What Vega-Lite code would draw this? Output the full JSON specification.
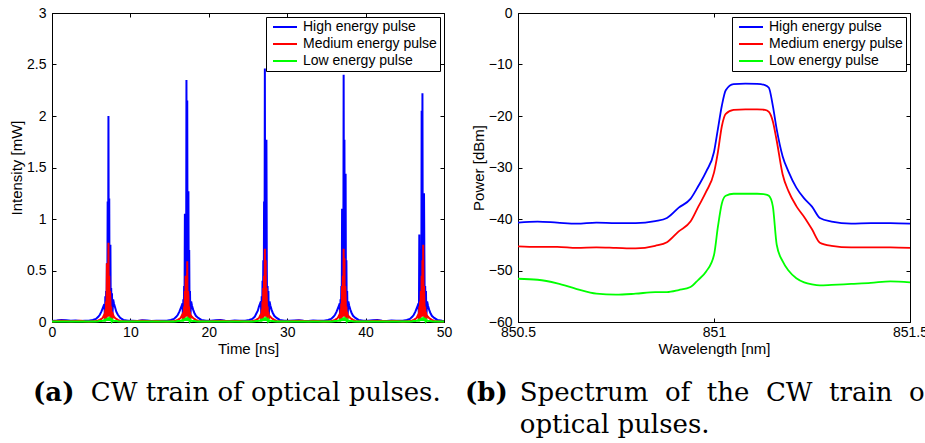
{
"$schema":"https://vega.github.io/schema/vega-lite/v6.json",
"background":"white",
"padding":{"left":9,"top":5,"right":0,"bottom":0},
"spacing":11,
"config":{
 "font":"Liberation Sans",
 "view":{"stroke":"black","strokeWidth":1},
 "axis":{"grid":false,"domainColor":"black","domainWidth":1,"tickColor":"black","tickWidth":1,"tickSize":-4,"labelColor":"black","titleColor":"black","labelFont":"Liberation Sans","titleFont":"Liberation Sans","labelFontSize":14,"titleFontSize":15,"titleFontWeight":"normal","labelFlush":false,"labelOverlap":false},
 "axisX":{"labelPadding":7,"titlePadding":2},
 "axisY":{"labelPadding":10,"titlePadding":2},
 "legend":{"orient":"top-right","offset":4,"padding":3,"fillColor":"white","strokeColor":"black","strokeWidth":1,"cornerRadius":0,"labelFont":"Liberation Sans","labelFontSize":14,"labelColor":"black","symbolType":"M-2,0H2","symbolSize":144,"symbolStrokeWidth":2,"symbolOffset":9,"labelOffset":11,"rowPadding":3},
 "title":{"orient":"bottom","anchor":"start","frame":"group","font":"DejaVu Serif","fontSize":26,"fontWeight":"bold","color":"black","subtitleFont":"DejaVu Serif","subtitleFontSize":26,"subtitleFontWeight":"normal","subtitleColor":"black","subtitlePadding":-26,"subtitleLineHeight":32,"offset":24}
},
"datasets":{
"pulses":[
{"t":0,"H":0.01,"M":0.006,"L":0.005},{"t":0.6,"H":0.014,"M":0.01,"L":0.006},{"t":1.2,"H":0.02,"M":0.012,"L":0.006},{"t":1.8,"H":0.018,"M":0.01,"L":0.005},{"t":2.4,"H":0.012,"M":0.008,"L":0.005},{"t":3,"H":0.015,"M":0.01,"L":0.006},{"t":3.6,"H":0.01,"M":0.012,"L":0.005},{"t":4.2,"H":0.013,"M":0.008,"L":0.005},
{"t":4.7,"H":0.012,"M":0.006,"L":0.005},{"t":5.2,"H":0.02,"M":0.008,"L":0.005},{"t":5.6,"H":0.03,"M":0.01,"L":0.006},{"t":5.9,"H":0.05,"M":0.015,"L":0.008},{"t":6.1,"H":0.07,"M":0.02,"L":0.01},{"t":6.3,"H":0.1,"M":0.03,"L":0.01},{"t":6.45,"H":0.13,"M":0.04,"L":0.012},{"t":6.6,"H":0.16,"M":0.06,"L":0.015},{"t":6.7,"H":0.15,"M":0.08,"L":0.02},{"t":6.75,"H":0.03,"M":0.02,"L":0.005},{"t":6.8,"H":0.25,"M":0.12,"L":0.025},{"t":6.85,"H":0.04,"M":0.03,"L":0.01},{"t":6.9,"H":0.3,"M":0.2,"L":0.03},{"t":6.95,"H":0.05,"M":0.03,"L":0.01},{"t":7,"H":0.57,"M":0.57,"L":0.035},{"t":7.05,"H":0.06,"M":0.05,"L":0.01},{"t":7.1,"H":1.17,"M":0.35,"L":0.04},{"t":7.15,"H":0.1,"M":0.05,"L":0.01},{"t":7.2,"H":2.0,"M":0.77,"L":0.045},{"t":7.25,"H":0.15,"M":0.08,"L":0.01},{"t":7.3,"H":1.2,"M":0.45,"L":0.04},{"t":7.35,"H":0.1,"M":0.05,"L":0.01},{"t":7.4,"H":0.6,"M":0.3,"L":0.035},{"t":7.45,"H":0.75,"M":0.2,"L":0.03},{"t":7.5,"H":0.06,"M":0.04,"L":0.01},{"t":7.55,"H":0.33,"M":0.15,"L":0.025},{"t":7.6,"H":0.05,"M":0.03,"L":0.01},{"t":7.65,"H":0.28,"M":0.1,"L":0.02},{"t":7.7,"H":0.05,"M":0.03,"L":0.008},{"t":7.8,"H":0.22,"M":0.07,"L":0.015},{"t":7.9,"H":0.18,"M":0.05,"L":0.012},{"t":8.05,"H":0.14,"M":0.04,"L":0.01},{"t":8.2,"H":0.1,"M":0.03,"L":0.01},{"t":8.4,"H":0.07,"M":0.02,"L":0.008},{"t":8.7,"H":0.04,"M":0.01,"L":0.006},{"t":9.1,"H":0.02,"M":0.008,"L":0.005},{"t":9.7,"H":0.012,"M":0.006,"L":0.005},
{"t":10.3,"H":0.012,"M":0.008,"L":0.005},{"t":10.9,"H":0.01,"M":0.01,"L":0.006},{"t":11.5,"H":0.018,"M":0.012,"L":0.005},{"t":12.1,"H":0.015,"M":0.01,"L":0.005},{"t":12.7,"H":0.01,"M":0.008,"L":0.006},{"t":13.3,"H":0.013,"M":0.01,"L":0.005},{"t":13.9,"H":0.012,"M":0.008,"L":0.005},
{"t":14.65,"H":0.012,"M":0.006,"L":0.005},{"t":15.15,"H":0.02,"M":0.008,"L":0.005},{"t":15.55,"H":0.03,"M":0.01,"L":0.006},{"t":15.85,"H":0.05,"M":0.015,"L":0.008},{"t":16.05,"H":0.07,"M":0.02,"L":0.01},{"t":16.25,"H":0.1,"M":0.03,"L":0.01},{"t":16.4,"H":0.13,"M":0.04,"L":0.012},{"t":16.55,"H":0.16,"M":0.06,"L":0.015},{"t":16.65,"H":0.18,"M":0.08,"L":0.02},{"t":16.7,"H":0.03,"M":0.02,"L":0.005},{"t":16.75,"H":0.22,"M":0.1,"L":0.025},{"t":16.8,"H":0.04,"M":0.03,"L":0.01},{"t":16.85,"H":0.35,"M":0.15,"L":0.03},{"t":16.9,"H":0.05,"M":0.03,"L":0.01},{"t":16.95,"H":1.05,"M":0.3,"L":0.035},{"t":17,"H":0.06,"M":0.05,"L":0.01},{"t":17.05,"H":0.5,"M":0.45,"L":0.04},{"t":17.1,"H":0.1,"M":0.05,"L":0.01},{"t":17.15,"H":2.35,"M":0.45,"L":0.045},{"t":17.2,"H":0.15,"M":0.08,"L":0.01},{"t":17.25,"H":2.15,"M":0.59,"L":0.04},{"t":17.3,"H":0.1,"M":0.05,"L":0.01},{"t":17.35,"H":0.6,"M":0.3,"L":0.035},{"t":17.4,"H":1.27,"M":0.25,"L":0.03},{"t":17.45,"H":0.06,"M":0.04,"L":0.01},{"t":17.5,"H":0.7,"M":0.15,"L":0.025},{"t":17.55,"H":0.05,"M":0.03,"L":0.01},{"t":17.6,"H":0.3,"M":0.1,"L":0.02},{"t":17.65,"H":0.05,"M":0.03,"L":0.008},{"t":17.75,"H":0.2,"M":0.06,"L":0.015},{"t":17.85,"H":0.16,"M":0.05,"L":0.012},{"t":18,"H":0.12,"M":0.04,"L":0.01},{"t":18.15,"H":0.09,"M":0.03,"L":0.01},{"t":18.35,"H":0.06,"M":0.02,"L":0.008},{"t":18.65,"H":0.04,"M":0.01,"L":0.006},{"t":19.05,"H":0.02,"M":0.008,"L":0.005},{"t":19.65,"H":0.012,"M":0.006,"L":0.005},
{"t":20.3,"H":0.012,"M":0.008,"L":0.005},{"t":20.9,"H":0.016,"M":0.01,"L":0.006},{"t":21.5,"H":0.02,"M":0.012,"L":0.005},{"t":22.1,"H":0.012,"M":0.01,"L":0.005},{"t":22.7,"H":0.01,"M":0.008,"L":0.006},{"t":23.3,"H":0.014,"M":0.01,"L":0.005},{"t":23.9,"H":0.012,"M":0.009,"L":0.005},
{"t":24.65,"H":0.012,"M":0.006,"L":0.005},{"t":25.15,"H":0.02,"M":0.008,"L":0.005},{"t":25.55,"H":0.03,"M":0.01,"L":0.006},{"t":25.85,"H":0.05,"M":0.015,"L":0.008},{"t":26.05,"H":0.08,"M":0.02,"L":0.01},{"t":26.25,"H":0.11,"M":0.03,"L":0.01},{"t":26.4,"H":0.15,"M":0.04,"L":0.012},{"t":26.55,"H":0.18,"M":0.06,"L":0.015},{"t":26.65,"H":0.2,"M":0.08,"L":0.02},{"t":26.7,"H":0.03,"M":0.02,"L":0.005},{"t":26.75,"H":0.25,"M":0.12,"L":0.025},{"t":26.8,"H":0.04,"M":0.03,"L":0.01},{"t":26.85,"H":0.4,"M":0.2,"L":0.03},{"t":26.9,"H":0.05,"M":0.03,"L":0.01},{"t":26.95,"H":0.6,"M":0.33,"L":0.035},{"t":27,"H":0.06,"M":0.05,"L":0.01},{"t":27.05,"H":1.17,"M":0.45,"L":0.04},{"t":27.1,"H":0.1,"M":0.05,"L":0.01},{"t":27.15,"H":2.46,"M":0.71,"L":0.045},{"t":27.2,"H":0.15,"M":0.08,"L":0.01},{"t":27.25,"H":1.0,"M":0.6,"L":0.04},{"t":27.3,"H":0.1,"M":0.05,"L":0.01},{"t":27.35,"H":1.77,"M":0.33,"L":0.035},{"t":27.4,"H":0.5,"M":0.2,"L":0.03},{"t":27.45,"H":0.06,"M":0.04,"L":0.01},{"t":27.5,"H":0.35,"M":0.15,"L":0.025},{"t":27.55,"H":0.05,"M":0.03,"L":0.01},{"t":27.6,"H":0.3,"M":0.1,"L":0.02},{"t":27.65,"H":0.05,"M":0.03,"L":0.008},{"t":27.75,"H":0.2,"M":0.06,"L":0.015},{"t":27.85,"H":0.16,"M":0.05,"L":0.012},{"t":28,"H":0.12,"M":0.04,"L":0.01},{"t":28.15,"H":0.09,"M":0.03,"L":0.01},{"t":28.35,"H":0.06,"M":0.02,"L":0.008},{"t":28.65,"H":0.04,"M":0.01,"L":0.006},{"t":29.05,"H":0.02,"M":0.008,"L":0.005},{"t":29.65,"H":0.012,"M":0.006,"L":0.005},
{"t":30.3,"H":0.011,"M":0.008,"L":0.005},{"t":30.9,"H":0.015,"M":0.01,"L":0.006},{"t":31.5,"H":0.018,"M":0.012,"L":0.005},{"t":32.1,"H":0.012,"M":0.01,"L":0.005},{"t":32.7,"H":0.01,"M":0.008,"L":0.006},{"t":33.3,"H":0.014,"M":0.01,"L":0.005},{"t":33.9,"H":0.012,"M":0.009,"L":0.005},{"t":34.3,"H":0.011,"M":0.008,"L":0.005},
{"t":34.7,"H":0.012,"M":0.006,"L":0.005},{"t":35.2,"H":0.02,"M":0.008,"L":0.005},{"t":35.6,"H":0.03,"M":0.01,"L":0.006},{"t":35.9,"H":0.05,"M":0.015,"L":0.008},{"t":36.1,"H":0.07,"M":0.02,"L":0.01},{"t":36.3,"H":0.1,"M":0.03,"L":0.01},{"t":36.45,"H":0.13,"M":0.04,"L":0.012},{"t":36.6,"H":0.16,"M":0.06,"L":0.015},{"t":36.7,"H":0.18,"M":0.08,"L":0.02},{"t":36.75,"H":0.03,"M":0.02,"L":0.005},{"t":36.8,"H":0.22,"M":0.12,"L":0.025},{"t":36.85,"H":0.04,"M":0.03,"L":0.01},{"t":36.9,"H":0.35,"M":0.18,"L":0.03},{"t":36.95,"H":0.05,"M":0.03,"L":0.01},{"t":37,"H":1.1,"M":0.35,"L":0.035},{"t":37.05,"H":0.06,"M":0.05,"L":0.01},{"t":37.1,"H":0.6,"M":0.45,"L":0.04},{"t":37.15,"H":0.1,"M":0.05,"L":0.01},{"t":37.2,"H":2.4,"M":0.71,"L":0.045},{"t":37.25,"H":0.15,"M":0.08,"L":0.01},{"t":37.3,"H":1.77,"M":0.62,"L":0.04},{"t":37.35,"H":0.1,"M":0.05,"L":0.01},{"t":37.4,"H":0.9,"M":0.35,"L":0.035},{"t":37.45,"H":1.44,"M":0.25,"L":0.03},{"t":37.5,"H":0.06,"M":0.04,"L":0.01},{"t":37.55,"H":0.6,"M":0.15,"L":0.025},{"t":37.6,"H":0.05,"M":0.03,"L":0.01},{"t":37.65,"H":0.3,"M":0.1,"L":0.02},{"t":37.7,"H":0.05,"M":0.03,"L":0.008},{"t":37.8,"H":0.2,"M":0.06,"L":0.015},{"t":37.9,"H":0.16,"M":0.05,"L":0.012},{"t":38.05,"H":0.12,"M":0.04,"L":0.01},{"t":38.2,"H":0.09,"M":0.03,"L":0.01},{"t":38.4,"H":0.06,"M":0.02,"L":0.008},{"t":38.7,"H":0.04,"M":0.01,"L":0.006},{"t":39.1,"H":0.02,"M":0.008,"L":0.005},{"t":39.7,"H":0.012,"M":0.006,"L":0.005},
{"t":40.3,"H":0.012,"M":0.008,"L":0.005},{"t":40.9,"H":0.016,"M":0.01,"L":0.006},{"t":41.5,"H":0.02,"M":0.012,"L":0.005},{"t":42.1,"H":0.012,"M":0.01,"L":0.005},{"t":42.7,"H":0.01,"M":0.008,"L":0.006},{"t":43.3,"H":0.014,"M":0.01,"L":0.005},{"t":43.9,"H":0.012,"M":0.009,"L":0.005},{"t":44.4,"H":0.011,"M":0.008,"L":0.005},
{"t":44.75,"H":0.012,"M":0.006,"L":0.005},{"t":45.25,"H":0.02,"M":0.008,"L":0.005},{"t":45.65,"H":0.03,"M":0.01,"L":0.006},{"t":45.95,"H":0.05,"M":0.015,"L":0.008},{"t":46.15,"H":0.07,"M":0.02,"L":0.01},{"t":46.35,"H":0.1,"M":0.03,"L":0.01},{"t":46.5,"H":0.13,"M":0.04,"L":0.012},{"t":46.65,"H":0.16,"M":0.06,"L":0.015},{"t":46.75,"H":0.18,"M":0.08,"L":0.02},{"t":46.8,"H":0.03,"M":0.02,"L":0.005},{"t":46.85,"H":0.85,"M":0.15,"L":0.025},{"t":46.9,"H":0.04,"M":0.03,"L":0.01},{"t":46.95,"H":0.4,"M":0.2,"L":0.03},{"t":47,"H":0.05,"M":0.03,"L":0.01},{"t":47.05,"H":0.6,"M":0.3,"L":0.035},{"t":47.1,"H":0.06,"M":0.05,"L":0.01},{"t":47.15,"H":2.05,"M":0.45,"L":0.04},{"t":47.2,"H":0.1,"M":0.05,"L":0.01},{"t":47.25,"H":2.22,"M":0.6,"L":0.045},{"t":47.3,"H":0.15,"M":0.08,"L":0.01},{"t":47.35,"H":0.9,"M":0.75,"L":0.04},{"t":47.4,"H":0.1,"M":0.05,"L":0.01},{"t":47.45,"H":1.25,"M":0.35,"L":0.035},{"t":47.5,"H":0.6,"M":0.2,"L":0.03},{"t":47.55,"H":0.06,"M":0.04,"L":0.01},{"t":47.6,"H":0.35,"M":0.15,"L":0.025},{"t":47.65,"H":0.05,"M":0.03,"L":0.01},{"t":47.7,"H":0.3,"M":0.1,"L":0.02},{"t":47.75,"H":0.05,"M":0.03,"L":0.008},{"t":47.85,"H":0.2,"M":0.06,"L":0.015},{"t":47.95,"H":0.16,"M":0.05,"L":0.012},{"t":48.1,"H":0.12,"M":0.04,"L":0.01},{"t":48.25,"H":0.09,"M":0.03,"L":0.01},{"t":48.45,"H":0.06,"M":0.02,"L":0.008},{"t":48.75,"H":0.04,"M":0.01,"L":0.006},{"t":49.15,"H":0.02,"M":0.008,"L":0.005},{"t":49.75,"H":0.012,"M":0.006,"L":0.005},
{"t":50,"H":0.01,"M":0.006,"L":0.005}
],
"spectrum":[
{"w":850.5,"H":-40.7,"M":-45.3,"L":-51.6},{"w":850.55,"H":-40.5,"M":-45.4,"L":-51.8},{"w":850.6,"H":-40.7,"M":-45.4,"L":-52.5},{"w":850.65,"H":-40.9,"M":-45.6,"L":-53.6},{"w":850.7,"H":-40.7,"M":-45.5,"L":-54.5},{"w":850.75,"H":-40.8,"M":-45.6,"L":-54.7},{"w":850.8,"H":-40.8,"M":-45.7,"L":-54.5},{"w":850.85,"H":-40.4,"M":-45.2,"L":-54.2},{"w":850.88,"H":-39.8,"M":-44.5,"L":-54.2},{"w":850.91,"H":-37.8,"M":-42.4,"L":-53.8},{"w":850.94,"H":-36.1,"M":-40.5,"L":-53.2},{"w":850.96,"H":-33.6,"M":-37.6,"L":-51.8},{"w":850.98,"H":-30.8,"M":-34.7,"L":-50.2},{"w":851.0,"H":-27.0,"M":-31.0,"L":-47.0},{"w":851.01,"H":-22.5,"M":-27.0,"L":-41.5},{"w":851.02,"H":-18.0,"M":-22.0,"L":-37.0},{"w":851.03,"H":-15.0,"M":-19.6,"L":-35.5},{"w":851.05,"H":-13.8,"M":-18.8,"L":-35.1},{"w":851.08,"H":-13.7,"M":-18.7,"L":-35.1},{"w":851.11,"H":-13.75,"M":-18.7,"L":-35.1},{"w":851.13,"H":-14.0,"M":-18.8,"L":-35.2},{"w":851.14,"H":-14.5,"M":-19.2,"L":-35.5},{"w":851.15,"H":-18.0,"M":-21.0,"L":-37.5},{"w":851.16,"H":-22.6,"M":-24.8,"L":-45.0},{"w":851.175,"H":-27.8,"M":-31.3,"L":-48.2},{"w":851.19,"H":-30.8,"M":-34.6,"L":-50.0},{"w":851.21,"H":-33.9,"M":-37.5,"L":-51.5},{"w":851.23,"H":-36.0,"M":-39.6,"L":-52.3},{"w":851.25,"H":-37.6,"M":-42.0,"L":-52.7},{"w":851.27,"H":-39.8,"M":-44.6,"L":-52.9},{"w":851.3,"H":-40.5,"M":-45.2,"L":-52.8},{"w":851.35,"H":-40.9,"M":-45.5,"L":-52.6},{"w":851.4,"H":-40.8,"M":-45.5,"L":-52.4},{"w":851.45,"H":-40.8,"M":-45.5,"L":-52.1},{"w":851.5,"H":-40.9,"M":-45.6,"L":-52.3}
]
},
"resolve":{"legend":{"color":"independent"},"scale":{"x":"independent","y":"independent"}},
"hconcat":[
{
 "width":392,"height":309,
 "title":{"text":"(a)","subtitle":"\u200b\u00a0\u00a0\u00a0\u00a0\u00a0\u00a0\u00a0CW train of optical pulses.","dx":-19},
 "resolve":{"axis":{"x":"independent","y":"independent"}},
 "layer":[
  {"data":{"name":"pulses"},"mark":{"type":"line","strokeWidth":2},
   "encoding":{
    "x":{"field":"t","type":"quantitative","scale":{"domain":[0,50],"nice":false},"axis":{"title":"Time [ns]","values":[0,10,20,30,40,50],"format":"~f"}},
    "y":{"field":"H","type":"quantitative","scale":{"domain":[0,3],"nice":false},"axis":{"title":"Intensity [mW]","values":[0,0.5,1,1.5,2,2.5,3],"format":"~f"}},
    "color":{"datum":"High energy pulse","type":"nominal","scale":{"domain":["High energy pulse","Medium energy pulse","Low energy pulse"],"range":["#0000ff","#ff0000","#00ff00"]},"legend":{"title":null,"orient":"top-right","symbolType":"M-2,0H2","symbolSize":144,"symbolStrokeWidth":2}}}},
  {"data":{"name":"pulses"},"mark":{"type":"line","strokeWidth":2},
   "encoding":{
    "x":{"field":"t","type":"quantitative","axis":null},
    "y":{"field":"M","type":"quantitative","axis":null},
    "color":{"datum":"Medium energy pulse","type":"nominal"}}},
  {"data":{"name":"pulses"},"mark":{"type":"line","strokeWidth":2},
   "encoding":{
    "x":{"field":"t","type":"quantitative","axis":null},
    "y":{"field":"L","type":"quantitative","axis":null},
    "color":{"datum":"Low energy pulse","type":"nominal"}}},
  {"data":{"values":[{"t":0,"H":0}]},"mark":{"type":"point","opacity":0},
   "encoding":{
    "x":{"field":"t","type":"quantitative","axis":{"orient":"top","labels":false,"title":null,"domain":false,"values":[0,10,20,30,40,50]}},
    "y":{"field":"H","type":"quantitative","axis":{"orient":"right","labels":false,"title":null,"domain":false,"values":[0,0.5,1,1.5,2,2.5,3]}}}}
 ]
},
{
 "width":392,"height":309,
 "title":{"text":"(b)","subtitle":["\u200b\u00a0\u00a0\u00a0\u00a0\u00a0\u00a0\u2009Spectrum \u00a0of \u00a0the \u00a0CW \u00a0train \u00a0of","\u200b\u00a0\u00a0\u00a0\u00a0\u00a0\u00a0\u2009optical pulses."],"dx":-53},
 "resolve":{"axis":{"x":"independent","y":"independent"}},
 "layer":[
  {"data":{"name":"spectrum"},"mark":{"type":"line","strokeWidth":1.8,"interpolate":"monotone"},
   "encoding":{
    "x":{"field":"w","type":"quantitative","scale":{"domain":[850.5,851.5],"nice":false,"zero":false},"axis":{"title":"Wavelength [nm]","values":[850.5,851,851.5],"format":"~f"}},
    "y":{"field":"H","type":"quantitative","scale":{"domain":[-60,0],"nice":false},"axis":{"title":"Power [dBm]","values":[-60,-50,-40,-30,-20,-10,0],"labelExpr":"replace(format(datum.value,'~f'),'-','\u2212')"}},
    "color":{"datum":"High energy pulse","type":"nominal","scale":{"domain":["High energy pulse","Medium energy pulse","Low energy pulse"],"range":["#0000ff","#ff0000","#00ff00"]},"legend":{"title":null,"orient":"top-right","symbolType":"M-2,0H2","symbolSize":144,"symbolStrokeWidth":2}}}},
  {"data":{"name":"spectrum"},"mark":{"type":"line","strokeWidth":1.8,"interpolate":"monotone"},
   "encoding":{
    "x":{"field":"w","type":"quantitative","axis":null},
    "y":{"field":"M","type":"quantitative","axis":null},
    "color":{"datum":"Medium energy pulse","type":"nominal"}}},
  {"data":{"name":"spectrum"},"mark":{"type":"line","strokeWidth":1.8,"interpolate":"monotone"},
   "encoding":{
    "x":{"field":"w","type":"quantitative","axis":null},
    "y":{"field":"L","type":"quantitative","axis":null},
    "color":{"datum":"Low energy pulse","type":"nominal"}}},
  {"data":{"values":[{"w":851,"H":0}]},"mark":{"type":"point","opacity":0},
   "encoding":{
    "x":{"field":"w","type":"quantitative","axis":{"orient":"top","labels":false,"title":null,"domain":false,"values":[850.5,851,851.5]}},
    "y":{"field":"H","type":"quantitative","axis":{"orient":"right","labels":false,"title":null,"domain":false,"values":[-60,-50,-40,-30,-20,-10,0]}}}}
 ]
}
]
}
